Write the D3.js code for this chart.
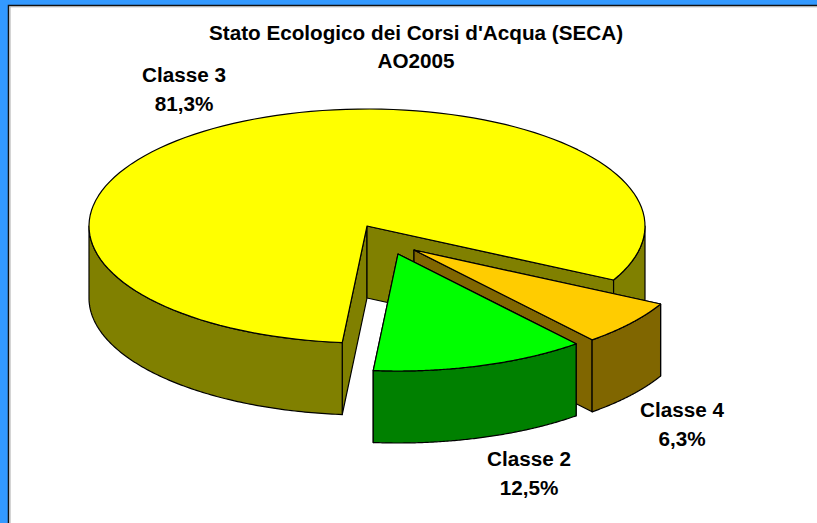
<!DOCTYPE html>
<html><head><meta charset="utf-8">
<script src="https://cdn.jsdelivr.net/npm/d3@7/dist/d3.min.js"></script>
<style>html,body{margin:0;padding:0;background:#3399ff;overflow:hidden}svg{display:block}
text{font-family:"Liberation Sans",Arial,sans-serif;font-weight:bold;fill:#000;text-anchor:middle;font-size:20.7px}</style>
</head><body><svg id="c" width="817" height="523"></svg>
<script>
const titleLines = ["Stato Ecologico dei Corsi d'Acqua (SECA)", "AO2005"];
const categories = ["Classe 4", "Classe 2", "Classe 3"];
const values = [6.3, 12.5, 81.3];
const valueLabels = ["6,3%", "12,5%", "81,3%"];
const topColors = ["#ffcc00", "#00ff00", "#ffff00"];
const sideColors = ["#806600", "#008000", "#808000"];
const centers = [[414, 250], [398, 254], [367, 226]];
const labelPos = [[682, 417], [529, 466], [184, 82]];
const drawOrder = [2, 0, 1];

const RX = 278, RY = 117, DEPTH = 72, START = 27.5 * Math.PI / 180;
const svg = d3.select("#c");
svg.append("rect").attr("x", 8).attr("y", 5).attr("width", 809).attr("height", 518).attr("fill", "#fff");
svg.append("path").attr("d", "M8.5,523V5.5H817").attr("fill", "none").attr("stroke", "#111").attr("stroke-width", 1.5);
svg.append("path").attr("d", "M10,523V6.8H817").attr("fill", "none").attr("stroke", "#aaa").attr("stroke-width", 1);

const pie = d3.pie().sort(null).startAngle(START + Math.PI / 2).endAngle(START + Math.PI / 2 + 2 * Math.PI);
const arcs = pie(values);
const pt = (c, a, dz = 0) => [c[0] + RX * Math.sin(a), c[1] - RY * Math.cos(a) + dz];
const line = d3.line();

function arcPts(c, a0, a1, dz) {
  return d3.range(0, 121).map(i => pt(c, a0 + (a1 - a0) * i / 120, dz));
}
function shape(points, fill) {
  svg.append("path").attr("d", line(points) + "Z").attr("fill", fill)
    .attr("stroke", "#000").attr("stroke-width", 1.2).attr("stroke-linejoin", "round");
}
drawOrder.forEach(i => {
  const d = arcs[i];
  const c = centers[i], a0 = d.startAngle, a1 = d.endAngle, side = sideColors[i];
  const c2 = [c[0], c[1] + DEPTH];
  // radial walls
  [a0, a1].forEach(a => shape([c, pt(c, a), pt(c, a, DEPTH), c2], side));
  // outer wall: only the part facing the viewer
  const frontRanges = [[Math.PI / 2, 3 * Math.PI / 2], [Math.PI / 2 + 2 * Math.PI, 3 * Math.PI / 2 + 2 * Math.PI]];
  frontRanges.forEach(([f0, f1]) => {
    const s = Math.max(a0, f0), e = Math.min(a1, f1);
    if (e > s) shape(arcPts(c, s, e, 0).concat(arcPts(c, e, s, DEPTH)), side);
  });
  shape([c].concat(arcPts(c, a0, a1, 0)), topColors[i]);
});
titleLines.forEach((t, i) => svg.append("text").attr("x", 416).attr("y", 40 + i * 28).text(t));
categories.forEach((t, i) => {
  svg.append("text").attr("x", labelPos[i][0]).attr("y", labelPos[i][1]).text(t);
  svg.append("text").attr("x", labelPos[i][0]).attr("y", labelPos[i][1] + 29).text(valueLabels[i]);
});
</script></body></html>
